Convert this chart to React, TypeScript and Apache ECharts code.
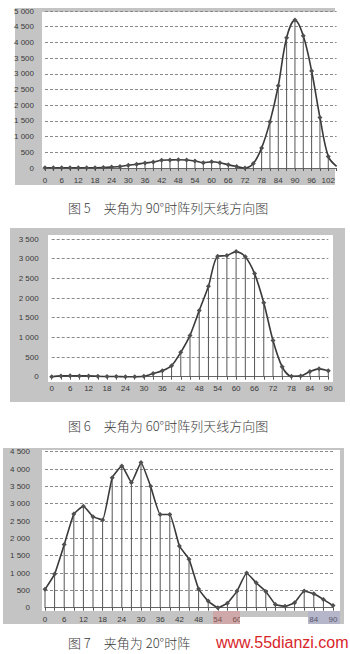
import React, { useEffect, useRef } from "react";
import * as echarts from "echarts";

const cats1 = ["0","3","6","9","12","15","18","21","24","27","30","33","36","39","42","45","48","51","54","57","60","63","66","69","72","75","78","81","84","87","90","93","96","99","102","105"];
const vals1 = [10,10,10,10,5,10,10,15,30,50,90,120,160,190,245,255,265,255,225,170,200,170,100,45,0,140,640,1470,2620,4150,4710,4210,3090,1610,370,50];

const cats2 = ["0","3","6","9","12","15","18","21","24","27","30","33","36","39","42","45","48","51","54","57","60","63","66","69","72","75","78","81","84","87","90"];
const vals2 = [0,20,25,20,20,10,5,5,0,0,10,80,150,280,620,1050,1680,2300,3060,3080,3180,3050,2620,1880,920,250,10,20,130,200,150];

const cats3 = ["0","3","6","9","12","15","18","21","24","27","30","33","36","39","42","45","48","51","54","57","60","63","66","69","72","75","78","81","84","87","90"];
const vals3 = [530,970,1820,2700,2930,2625,2530,3750,4090,3615,4190,3500,2690,2690,1780,1400,540,190,0,130,480,1000,720,470,95,40,145,480,400,240,60];

const yMax = [5000, 3500, 4500];
const captions = [
  "图 5　夹角为 90°时阵列天线方向图",
  "图 6　夹角为 60°时阵列天线方向图",
  "图 7　夹角为 20°时阵",
];
const watermark = "www.55dianzi.com";

const fmt = (v: number) => {
  if (v >= 1000) {
    const t = Math.floor(v / 1000);
    const r = v % 1000;
    return t + " " + String(r).padStart(3, "0");
  }
  return String(v);
};

const grids = [
  { left: 45, top: 11, width: 291.6, height: 157 },
  { left: 51.7, top: 239, width: 276.6, height: 137.7 },
  { left: 45, top: 451.7, width: 288, height: 156 },
];
const labelMargins = [11, 13, 15];
const smooths = [0.35, 0.3, 0.12];

export default function App() {
  const ref = useRef<HTMLDivElement>(null);
  useEffect(() => {
    if (!ref.current) return;
    const chart = echarts.init(ref.current, null, { renderer: "svg" });
    const cats = [cats1, cats2, cats3];
    const vals = [vals1, vals2, vals3];
    const xAxis = cats.map((c, i) => ({
      type: "category",
      gridIndex: i,
      data: c,
      boundaryGap: false,
      axisLine: { show: true, lineStyle: { color: "#666", width: 1 } },
      axisTick: { show: true, length: 3, interval: 0, lineStyle: { color: "#555" } },
      axisLabel: {
        interval: 1,
        fontSize: 8,
        color: "#3a3a3a",
        margin: 8,
        fontFamily: "Liberation Sans",
      },
      splitLine: { show: false },
    }));
    const yAxis = yMax.map((m, i) => ({
      type: "value",
      gridIndex: i,
      min: 0,
      max: m,
      interval: 500,
      axisLine: { show: false },
      axisTick: { show: false },
      axisLabel: {
        fontSize: 8,
        color: "#3a3a3a",
        margin: labelMargins[i],
        fontFamily: "Liberation Sans",
        formatter: fmt,
      },
      splitLine: { show: true, lineStyle: { color: "#8a8a8a", type: [3, 2], width: 1 } },
    }));
    const series: any[] = [];
    vals.forEach((v, i) => {
      series.push({
        type: "bar",
        xAxisIndex: i,
        yAxisIndex: i,
        barWidth: 1,
        data: v.map((d, k) => (i === 0 && k === v.length - 1 ? "-" : d)),
        itemStyle: { color: "#555" },
        z: 2,
        silent: true,
      });
      series.push({
        type: "line",
        xAxisIndex: i,
        yAxisIndex: i,
        data: v.map((d, k) => (i === 0 && k === v.length - 1 ? { value: d, symbol: "none" } : d)),
        smooth: smooths[i],
        symbol: "diamond",
        symbolSize: 5,
        itemStyle: { color: "#505050" },
        lineStyle: { color: "#3a3a3a", width: 1.6 },
        z: 3,
        clip: false,
      });
    });
    const panelFill = "#c4c4c4";
    const capFont = '300 13px "Noto Sans CJK SC"';
    const graphic: any[] = [
      { type: "rect", z: -2, shape: { x: 15, y: 8, width: 320, height: 177 }, style: { fill: panelFill } },
      { type: "rect", z: -1, shape: { x: 42, y: 12, width: 293, height: 156 }, style: { fill: "#fff" } },
      { type: "rect", z: -2, shape: { x: 10, y: 228, width: 335, height: 174 }, style: { fill: panelFill } },
      { type: "rect", z: -1, shape: { x: 48, y: 235, width: 285, height: 147 }, style: { fill: "#fff" } },
      { type: "rect", z: -2, shape: { x: 3, y: 448, width: 341, height: 176 }, style: { fill: panelFill } },
      { type: "rect", z: -1, shape: { x: 42, y: 450, width: 298, height: 161 }, style: { fill: "#fff" } },
      {
        type: "text", z: 10, x: 68, y: 207,
        style: { text: captions[0], font: capFont, fill: "#3a3a3a", textVerticalAlign: "middle" },
      },
      {
        type: "text", z: 10, x: 68, y: 425,
        style: { text: captions[1], font: capFont, fill: "#3a3a3a", textVerticalAlign: "middle" },
      },
      {
        type: "text", z: 10, x: 68, y: 642,
        style: { text: captions[2], font: capFont, fill: "#3a3a3a", textVerticalAlign: "middle" },
      },
      { type: "rect", z: 20, shape: { x: 213, y: 611, width: 27, height: 13 }, style: { fill: "rgba(230,120,120,0.35)" } },
      { type: "rect", z: 20, shape: { x: 240, y: 617, width: 68, height: 10 }, style: { fill: "#fff" } },
      { type: "rect", z: 20, shape: { x: 308, y: 611, width: 32, height: 13 }, style: { fill: "rgba(150,150,220,0.3)" } },
      {
        type: "text", z: 21, x: 216, y: 642,
        style: { text: watermark, font: '16px "Liberation Sans"', fill: "#d8262a", textVerticalAlign: "middle" },
      },
    ];
    chart.setOption({
      animation: false,
      backgroundColor: "#fff",
      grid: grids.map((g) => ({ ...g, containLabel: false })),
      xAxis,
      yAxis,
      series,
      graphic,
    });
    return () => chart.dispose();
  }, []);
  return (
    <div
      ref={ref}
      style={{ position: "fixed", left: 0, top: 0, width: 350, height: 654 }}
    />
  );
}
